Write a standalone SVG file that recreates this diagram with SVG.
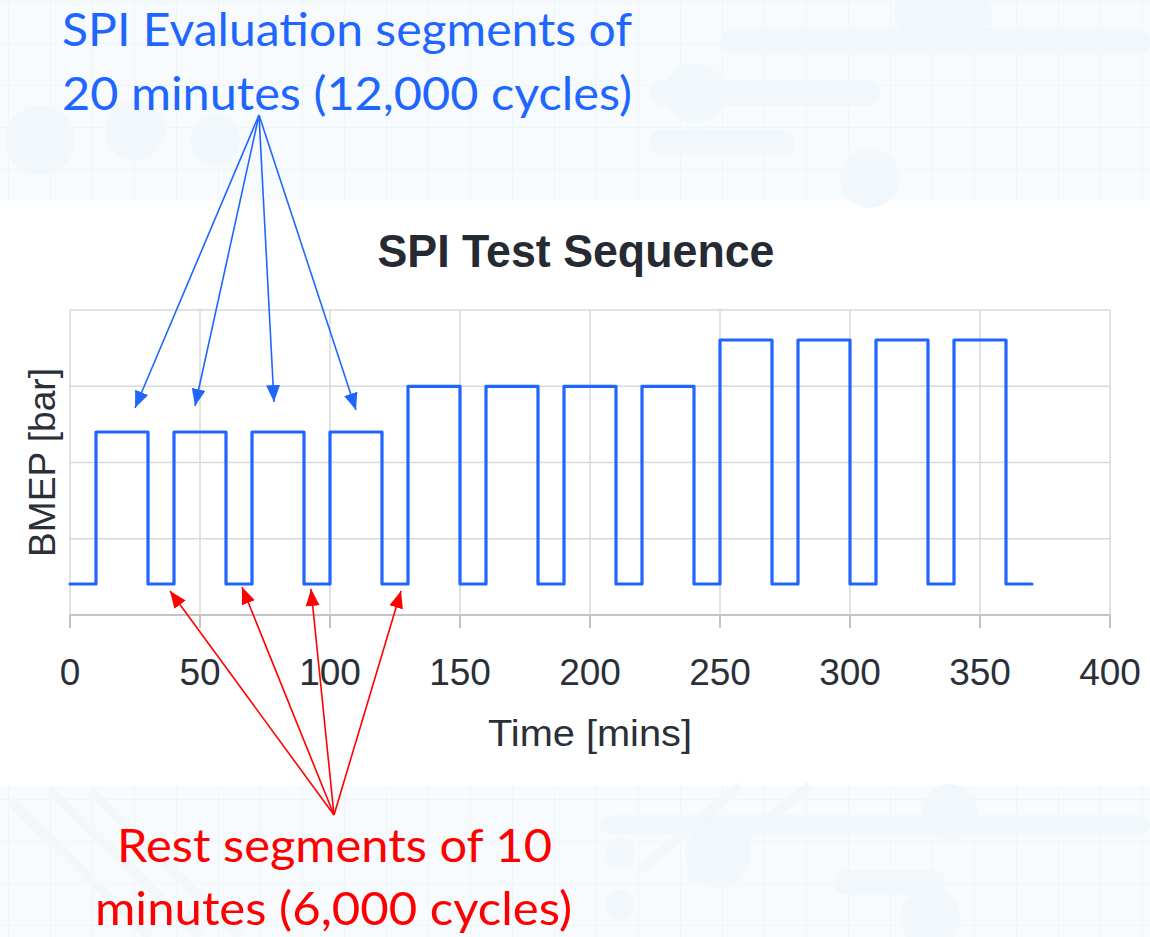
<svg xmlns="http://www.w3.org/2000/svg" width="1150" height="937" viewBox="0 0 1150 937">
<defs>
<style>
.bg{fill:#f7fbfd}
.bgl{stroke:#eff6f9;stroke-width:2;fill:none}
.blob{fill:#f1f7fa}
.grid{stroke:#d9d9d9;stroke-width:1.5;fill:none}
.axis{stroke:#c4c4c4;stroke-width:2;fill:none}
.wave{stroke:#1f66ff;stroke-width:3.2;fill:none;stroke-linejoin:round;stroke-linecap:round}
.tick{font-family:"Liberation Sans",Arial,sans-serif;font-size:37px;fill:#2a2f38;text-anchor:middle}
.title{font-family:"Liberation Sans",Arial,sans-serif;font-weight:bold;font-size:47px;fill:#262b33;text-anchor:middle}
.ann{font-family:Lato,"Open Sans",sans-serif;font-size:47px}
.blue{fill:#1f66ff}
.red{fill:#ff0000}
.barrow{stroke:#1f66ff;stroke-width:1.6;fill:none}
.rarrow{stroke:#ff0000;stroke-width:1.6;fill:none}
</style>
<marker id="mb" markerUnits="userSpaceOnUse" markerWidth="18" markerHeight="14" refX="17" refY="7" orient="auto"><path d="M0,0 L17,7 L0,14 z" fill="#1f66ff"/></marker>
<marker id="mr" markerUnits="userSpaceOnUse" markerWidth="18" markerHeight="14" refX="17" refY="7" orient="auto"><path d="M0,0 L17,7 L0,14 z" fill="#ff0000"/></marker>
<pattern id="bggrid" patternUnits="userSpaceOnUse" width="42" height="42" x="8" y="1"><path d="M0,0 H42 M0,0 V42" class="bgl"/></pattern>
</defs>

<g id="background">
<rect x="0" y="0" width="1150" height="937" fill="#ffffff"/>
<rect x="0" y="0" width="1150" height="200" class="bg"/>
<rect x="0" y="0" width="1150" height="200" fill="url(#bggrid)"/>
<rect x="0" y="786" width="1150" height="151" class="bg"/>
<rect x="0" y="786" width="1150" height="151" fill="url(#bggrid)"/>
<rect x="720" y="28" width="430" height="27" rx="13" class="blob"/>
<rect x="650" y="80" width="230" height="26" rx="13" class="blob"/>
<rect x="650" y="130" width="145" height="25" rx="12" class="blob"/>
<circle cx="695" cy="93" r="30" class="blob"/>
<rect x="893" y="0" width="100" height="28" rx="14" class="blob"/>
<circle cx="870" cy="178" r="30" class="blob"/>
<circle cx="135" cy="130" r="30" class="blob"/>
<circle cx="215" cy="140" r="25" class="blob"/>
<circle cx="40" cy="140" r="35" class="blob"/>
<rect x="600" y="815" width="550" height="20" rx="10" class="blob"/>
<circle cx="718" cy="855" r="33" class="blob"/>
<circle cx="950" cy="812" r="28" class="blob"/>
<circle cx="930" cy="918" r="30" class="blob"/>
<rect x="835" y="870" width="110" height="25" rx="12" class="blob"/>
<circle cx="620" cy="853" r="15" class="blob"/>
<circle cx="620" cy="905" r="15" class="blob"/>
<path d="M740,786 L640,870 M810,786 L690,880" stroke="#f1f7fa" stroke-width="10"/>
<path d="M10,800 L150,937 M50,790 L200,937 M90,790 L240,937" stroke="#f2f8fa" stroke-width="10"/>
</g>

<g id="chart-grid">
<path class="grid" d="M70,310 H1110 M70,386.3 H1110 M70,462.5 H1110 M70,538.8 H1110 M70,310 V615 M200,310 V615 M330,310 V615 M460,310 V615 M590,310 V615 M720,310 V615 M850,310 V615 M980,310 V615 M1110,310 V615"/>
<path class="axis" d="M70,615 H1110 M70,615 V628 M200,615 V628 M330,615 V628 M460,615 V628 M590,615 V628 M720,615 V628 M850,615 V628 M980,615 V628 M1110,615 V628"/>
</g>

<g id="tick-labels">
<text class="tick" x="70" y="685">0</text>
<text class="tick" x="200" y="685">50</text>
<text class="tick" x="330" y="685">100</text>
<text class="tick" x="460" y="685">150</text>
<text class="tick" x="590" y="685">200</text>
<text class="tick" x="720" y="685">250</text>
<text class="tick" x="850" y="685">300</text>
<text class="tick" x="980" y="685">350</text>
<text class="tick" x="1110" y="685">400</text>
</g>

<g id="axis-titles">
<text class="tick" x="590" y="746" textLength="204" lengthAdjust="spacingAndGlyphs">Time [mins]</text>
<text class="tick" transform="translate(55,462.5) rotate(-90)" x="0" y="0" textLength="189" lengthAdjust="spacingAndGlyphs">BMEP [bar]</text>
<text class="title" x="576" y="267" textLength="397" lengthAdjust="spacingAndGlyphs">SPI Test Sequence</text>
</g>

<g id="series">
<path class="wave" d="M70,584 H96 V432 H148 V584 H174 V432 H226 V584 H252 V432 H304 V584 H330 V432 H382 V584 H408 V386.3 H460 V584 H486 V386.3 H538 V584 H564 V386.3 H616 V584 H642 V386.3 H694 V584 H720 V340 H772 V584 H798 V340 H850 V584 H876 V340 H928 V584 H954 V340 H1006 V584 H1032"/>
</g>

<g id="evaluation-label">
<text class="ann blue" x="62" y="46" textLength="570" lengthAdjust="spacingAndGlyphs">SPI Evaluation segments of</text>
<text class="ann blue" x="62" y="110" textLength="570" lengthAdjust="spacingAndGlyphs">20 minutes (12,000 cycles)</text>
</g>

<g id="rest-label">
<text class="ann red" x="117" y="862" textLength="435" lengthAdjust="spacingAndGlyphs">Rest segments of 10</text>
<text class="ann red" x="95" y="925" textLength="477" lengthAdjust="spacingAndGlyphs">minutes (6,000 cycles)</text>
</g>

<g id="connectors">
<line class="barrow" x1="259" y1="115" x2="135" y2="408" marker-end="url(#mb)"/>
<line class="barrow" x1="259" y1="115" x2="195" y2="406" marker-end="url(#mb)"/>
<line class="barrow" x1="259" y1="115" x2="274" y2="402" marker-end="url(#mb)"/>
<line class="barrow" x1="259" y1="115" x2="356" y2="410" marker-end="url(#mb)"/>
<line class="rarrow" x1="334" y1="815" x2="170" y2="591" marker-end="url(#mr)"/>
<line class="rarrow" x1="334" y1="815" x2="242" y2="587" marker-end="url(#mr)"/>
<line class="rarrow" x1="334" y1="815" x2="311" y2="589" marker-end="url(#mr)"/>
<line class="rarrow" x1="334" y1="815" x2="401" y2="591" marker-end="url(#mr)"/>
</g>
</svg>
